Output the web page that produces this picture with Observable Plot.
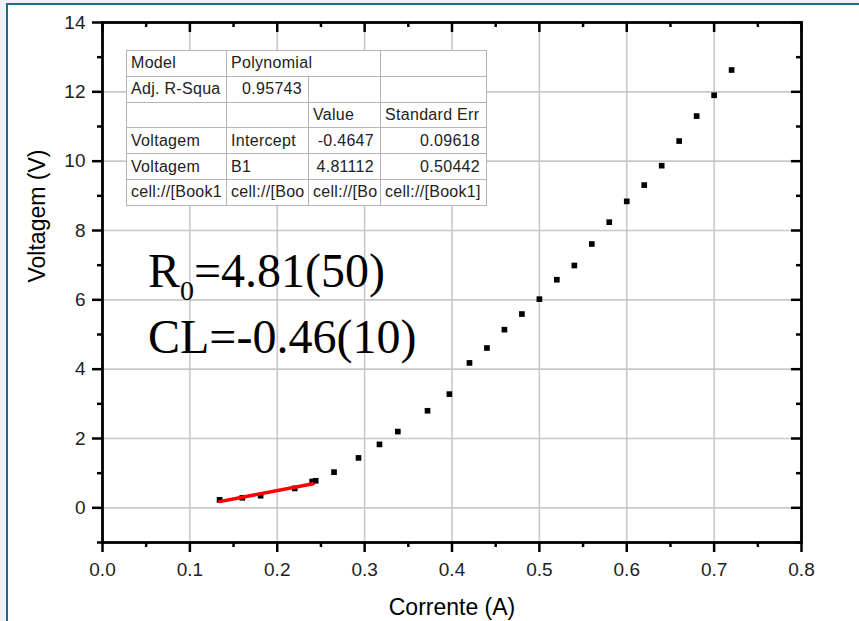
<!DOCTYPE html>
<html>
<head>
<meta charset="utf-8">
<script src="https://cdn.jsdelivr.net/npm/d3@7"></script>
<script src="https://cdn.jsdelivr.net/npm/@observablehq/plot@0.6"></script>
<style>
  html, body { margin: 0; padding: 0; background: #fff; }
  #wrap { position: relative; width: 859px; height: 621px; overflow: hidden; background: #eef2f5; }
  #panel { position: absolute; left: 6px; top: 3px; right: 0; bottom: 0; background: #fff;
           border-left: 2px solid #1d6b88; border-top: 2.5px solid #1d6b88; }
  #chart { position: absolute; left: 0; top: 0; }
  #fit { position: absolute; left: 126px; top: 50px; width: 360px; table-layout: fixed;
         border-collapse: collapse; background: #fff; border: 1.5px solid #222;
         font-family: "Liberation Sans", Arial, sans-serif; font-size: 16px; color: #222; letter-spacing: 0.3px; }
  #fit td { border: 1px solid #b4b4b4; height: 24.8px; padding: 0 4px; white-space: nowrap; overflow: hidden; line-height: 24px; }
  #fit td.num { text-align: right; padding-right: 6px; }
  #note { position: absolute; left: 148px; top: 241px; font-family: "Liberation Serif", "Times New Roman", serif;
          font-size: 48px; line-height: 59px; color: #000; white-space: nowrap; }
  #note .sub { font-size: 28px; position: relative; top: 13px; }
</style>
</head>
<body>
<div id="wrap">
  <div id="panel"></div>
  <div id="chart"></div>
  <table id="fit"></table>
  <div id="note"></div>
</div>
<script>
// ---- data ----
const current = [0.134, 0.160, 0.181, 0.220, 0.240, 0.244, 0.265, 0.293, 0.317, 0.338,
                 0.372, 0.397, 0.420, 0.440, 0.460, 0.480, 0.500, 0.520, 0.540, 0.560,
                 0.580, 0.600, 0.620, 0.640, 0.660, 0.680, 0.700, 0.720];
const voltage = [0.23, 0.29, 0.35, 0.56, 0.76, 0.78, 1.03, 1.44, 1.83, 2.20,
                 2.80, 3.28, 4.18, 4.61, 5.14, 5.59, 6.02, 6.58, 6.99, 7.61,
                 8.24, 8.84, 9.31, 9.87, 10.58, 11.30, 11.90, 12.63];
const fitIntercept = -0.4647;
const fitSlope = 4.81112;
const fitCurrentRange = [0.134, 0.241];

const xMajor = [0, 0.1, 0.2, 0.3, 0.4, 0.5, 0.6, 0.7, 0.8];
const xMinor = [0.05, 0.15, 0.25, 0.35, 0.45, 0.55, 0.65, 0.75];
const yMajor = [0, 2, 4, 6, 8, 10, 12, 14];
const yMinor = [-1, 1, 3, 5, 7, 9, 11, 13];
const xTitle = "Corrente (A)";
const yTitle = "Voltagem (V)";

const tableRows = [
  ["Model", "Polynomial", null, ""],
  ["Adj. R-Squa", "0.95743", "", ""],
  ["", "", "Value", "Standard Err"],
  ["Voltagem", "Intercept", "-0.4647", "0.09618"],
  ["Voltagem", "B1", "4.81112", "0.50442"],
  ["cell://[Book1", "cell://[Boo", "cell://[Bo", "cell://[Book1]"]
];
const noteLines = [["R", "0", "=4.81(50)"], ["CL=-0.46(10)"]];

// ---- build ----
const points = current.map((c, i) => ({c, v: voltage[i]}));
const fitLine = fitCurrentRange.map(c => ({c, v: fitIntercept + fitSlope * c}));

const tickStyle = {stroke: "#000", strokeWidth: 2.5};
const plot = Plot.plot({
  width: 859, height: 621,
  marginLeft: 102, marginRight: 58, marginTop: 22, marginBottom: 79,
  x: {domain: [0, 0.8]},
  y: {domain: [-1, 14]},
  style: {background: "transparent", fontFamily: "'Liberation Sans', Arial, sans-serif", fontSize: "19px", color: "#222"},
  marks: [
    Plot.gridX(xMajor, {stroke: "#c8c8c8", strokeOpacity: 1, strokeWidth: 1.6}),
    Plot.gridY(yMajor, {stroke: "#c8c8c8", strokeOpacity: 1, strokeWidth: 1.6}),
    Plot.dot(points, {x: "c", y: "v", symbol: "square", r: 3.2, fill: "#000", stroke: null}),
    Plot.line(fitLine, {x: "c", y: "v", stroke: "#ff0000", strokeWidth: 3.5}),
    Plot.frame({stroke: "#000", strokeWidth: 2.8}),
    Plot.axisX(xMajor, {...tickStyle, tickSize: 10, tickPadding: 10, tickFormat: d3.format(".1f"), label: null, fontSize: 19}),
    Plot.axisX(xMinor, {...tickStyle, tickSize: 5, tickFormat: () => "", label: null}),
    Plot.axisY(yMajor, {...tickStyle, tickSize: 10, tickPadding: 7, label: null, fontSize: 19}),
    Plot.axisY(yMinor, {...tickStyle, tickSize: 5, tickFormat: () => "", label: null}),
    Plot.tickX(xMajor, {x: d => d, insetBottom: 510, ...tickStyle}),
    Plot.tickX(xMinor, {x: d => d, insetBottom: 515, ...tickStyle}),
    Plot.tickY(yMajor, {y: d => d, insetLeft: 689, ...tickStyle}),
    Plot.tickY(yMinor, {y: d => d, insetLeft: 694, ...tickStyle}),
    Plot.text([xTitle], {text: d => d, frameAnchor: "bottom", dy: 72, lineAnchor: "bottom", fontSize: 23, fill: "#000"}),
    Plot.text([yTitle], {text: d => d, frameAnchor: "left", dx: -74, rotate: -90, lineAnchor: "top", fontSize: 23, fill: "#000"})
  ]
});
document.getElementById("chart").appendChild(plot);

// table
const colW = [100, 82, 72, 106];
const table = document.getElementById("fit");
const cg = document.createElement("colgroup");
colW.forEach(w => { const c = document.createElement("col"); c.style.width = w + "px"; cg.appendChild(c); });
table.appendChild(cg);
const isNum = s => /^-?[0-9.]+$/.test(s);
tableRows.forEach(row => {
  const tr = document.createElement("tr");
  row.forEach((cell, j) => {
    if (cell === null) return;
    const td = document.createElement("td");
    td.textContent = cell;
    if (isNum(cell)) td.className = "num";
    if (j + 1 < row.length && row[j + 1] === null) td.colSpan = 2;
    tr.appendChild(td);
  });
  table.appendChild(tr);
});

// annotation
const note = document.getElementById("note");
noteLines.forEach(parts => {
  const div = document.createElement("div");
  parts.forEach((p, k) => {
    const s = document.createElement("span");
    s.textContent = p;
    if (parts.length > 1 && k === 1) s.className = "sub";
    div.appendChild(s);
  });
  note.appendChild(div);
});
</script>
</body>
</html>
